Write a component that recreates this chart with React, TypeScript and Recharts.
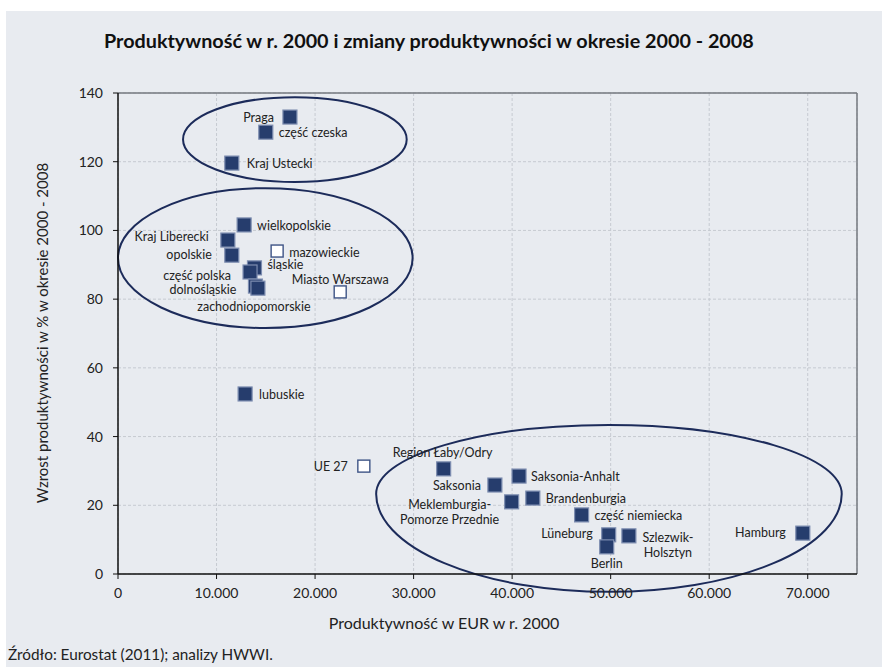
import {
  ScatterChart,
  Scatter,
  XAxis,
  YAxis,
  CartesianGrid,
  ReferenceLine,
  ReferenceArea,
} from "recharts";

// regiony (wypełnione kwadraty)
const regionNames = [
  "Praga",
  "część czeska",
  "Kraj Ustecki",
  "wielkopolskie",
  "Kraj Liberecki",
  "opolskie",
  "śląskie",
  "część polska",
  "dolnośląskie",
  "zachodniopomorskie",
  "lubuskie",
  "Region Łaby/Odry",
  "Saksonia",
  "Saksonia-Anhalt",
  "Meklemburgia-Pomorze Przednie",
  "Brandenburgia",
  "część niemiecka",
  "Lüneburg",
  "Berlin",
  "Szlezwik-Holsztyn",
  "Hamburg",
];
const regionProd2000 = [
  17450, 15000, 11550, 12800, 11150, 11550, 13850, 13400, 13950, 14200,
  12900, 33050, 38250, 40700, 39950, 42100, 47050, 49800, 49600, 51850,
  69500,
];
const regionGrowth = [
  133.0, 128.6, 119.6, 101.6, 97.2, 92.8, 89.1, 87.9, 83.8, 83.2, 52.4,
  30.6, 25.9, 28.5, 21.0, 22.1, 17.2, 11.4, 7.9, 11.1, 11.9,
];

// punkty odniesienia (puste kwadraty)
const refNames = ["mazowieckie", "Miasto Warszawa", "UE 27"];
const refProd2000 = [16150, 22550, 24950];
const refGrowth = [94.0, 82.1, 31.4];

const xTicks = [0, 10000, 20000, 30000, 40000, 50000, 60000, 70000];
const yTicks = [0, 20, 40, 60, 80, 100, 120, 140];

// grupy zaznaczone elipsami
const groups = [
  { name: "CZ", x1: 6600, x2: 29300, top: 138.8, mid: 126.5, bottom: 114.1 },
  { name: "PL", x1: 0, x2: 29900, top: 112.3, mid: 92.0, bottom: 71.6 },
  { name: "DE", x1: 26200, x2: 73450, top: 43.4, mid: 23.3, bottom: -5.2 },
];

const regionData = regionNames.map((name, i) => ({
  name,
  x: regionProd2000[i],
  y: regionGrowth[i],
}));
const refData = refNames.map((name, i) => ({
  name,
  x: refProd2000[i],
  y: refGrowth[i],
}));

// rozmieszczenie etykiet: dx, dy względem środka, wyrównanie
const labelPlace: Record<string, { dx: number; dy: number; anchor: string; lines?: string[] }> = {
  Praga: { dx: -16, dy: 0, anchor: "end" },
  "część czeska": { dx: 13, dy: 0, anchor: "start" },
  "Kraj Ustecki": { dx: 15, dy: 0, anchor: "start" },
  wielkopolskie: { dx: 13, dy: 0, anchor: "start" },
  "Kraj Liberecki": { dx: -19, dy: -4, anchor: "end" },
  opolskie: { dx: -20, dy: -1, anchor: "end" },
  mazowieckie: { dx: 12, dy: 1, anchor: "start" },
  "śląskie": { dx: 13, dy: -4, anchor: "start" },
  "część polska": { dx: -19, dy: 3, anchor: "end" },
  "dolnośląskie": { dx: -19, dy: 3, anchor: "end" },
  zachodniopomorskie: { dx: -4, dy: 18, anchor: "middle" },
  "Miasto Warszawa": { dx: 0, dy: -13, anchor: "middle" },
  lubuskie: { dx: 14, dy: 0, anchor: "start" },
  "UE 27": { dx: -16, dy: 0, anchor: "end" },
  "Region Łaby/Odry": { dx: -1, dy: -17, anchor: "middle" },
  Saksonia: { dx: -14, dy: 0, anchor: "end" },
  "Saksonia-Anhalt": { dx: 12, dy: 0, anchor: "start" },
  "Meklemburgia-Pomorze Przednie": {
    dx: -62,
    dy: 10,
    anchor: "middle",
    lines: ["Meklemburgia-", "Pomorze Przednie"],
  },
  Brandenburgia: { dx: 13, dy: 0, anchor: "start" },
  "część niemiecka": { dx: 13, dy: 0, anchor: "start" },
  "Lüneburg": { dx: -16, dy: -2, anchor: "end" },
  Berlin: { dx: 0, dy: 16, anchor: "middle" },
  "Szlezwik-Holsztyn": {
    dx: 39,
    dy: 9,
    anchor: "middle",
    lines: ["Szlezwik-", "Holsztyn"],
  },
  Hamburg: { dx: -17, dy: -1, anchor: "end" },
};

const FONT = "Lato, 'Open Sans', sans-serif";

const PointLabel = ({ cx, cy, name }: { cx: number; cy: number; name: string }) => {
  const p = labelPlace[name] ?? { dx: 12, dy: 0, anchor: "start" };
  const lines = p.lines ?? [name];
  const startY = cy + p.dy - ((lines.length - 1) * 15) / 2;
  return (
    <text
      x={cx + p.dx}
      y={startY}
      textAnchor={p.anchor as any}
      dominantBaseline="central"
      fontFamily={FONT}
      fontSize={12.5}
      fill="#222"
    >
      {lines.map((l, i) => (
        <tspan key={i} x={cx + p.dx} y={startY + i * 15}>
          {l}
        </tspan>
      ))}
    </text>
  );
};

const FilledSquare = (props: any) => {
  const { cx, cy } = props;
  const name = props.payload?.name ?? props.name;
  return (
    <g>
      <rect x={cx - 7} y={cy - 7} width={14} height={14} fill="#263d6d" stroke="#7d8db0" strokeWidth={1.2} />
      <PointLabel cx={cx} cy={cy} name={name} />
    </g>
  );
};

const HollowSquare = (props: any) => {
  const { cx, cy } = props;
  const name = props.payload?.name ?? props.name;
  return (
    <g>
      <rect x={cx - 6} y={cy - 6} width={12} height={12} fill="#ffffff" stroke="#3e5486" strokeWidth={1.4} />
      <PointLabel cx={cx} cy={cy} name={name} />
    </g>
  );
};

const makeEllipse = (g: (typeof groups)[number]) => (props: any) => {
  const { x, y, width, height } = props;
  const split = (g.top - g.mid) / (g.top - g.bottom);
  const midY = y + height * split;
  const rx = width / 2;
  const ryTop = midY - y;
  const ryBottom = y + height - midY;
  const d = `M ${x} ${midY} A ${rx} ${ryTop} 0 0 1 ${x + width} ${midY} A ${rx} ${ryBottom} 0 0 1 ${x} ${midY} Z`;
  return <path d={d} fill="none" stroke="#1c2b5a" strokeWidth={2} />;
};

const fmtX = (v: number) => (v === 0 ? "0" : `${v / 1000}.000`);

export default function App() {
  return (
    <div style={{ position: "absolute", left: 0, top: 0, width: 882, height: 667, background: "#ffffff" }}>
      <div style={{ position: "absolute", left: 6, top: 11, width: 876, height: 656, background: "#e8ebf0" }} />
      <div
        style={{
          position: "absolute",
          left: 104,
          top: 28,
          fontFamily: FONT,
          fontWeight: 700,
          fontSize: 19.8,
          color: "#111",
          whiteSpace: "nowrap",
        }}
      >
        Produktywność w r. 2000 i zmiany produktywności w okresie 2000 - 2008
      </div>
      <div style={{ position: "absolute", left: 0, top: 0 }}>
        <ScatterChart width={882} height={667} margin={{ top: 93, right: 25, left: 38, bottom: 63 }}>
          <CartesianGrid stroke="#c6cad1" strokeDasharray="3 2" />
          <XAxis
            type="number"
            dataKey="x"
            domain={[0, 75000]}
            ticks={xTicks}
            tickFormatter={fmtX}
            height={30}
            tickSize={5}
            tickMargin={9}
            axisLine={{ stroke: "#111", strokeWidth: 1.5 }}
            tickLine={{ stroke: "#111" }}
            tick={{ fill: "#222", fontSize: 14, fontFamily: FONT }}
            allowDataOverflow
          />
          <YAxis
            type="number"
            dataKey="y"
            domain={[0, 140]}
            ticks={yTicks}
            width={80}
            tickSize={5}
            tickMargin={10}
            axisLine={{ stroke: "#111", strokeWidth: 1.5 }}
            tickLine={{ stroke: "#111" }}
            tick={{ fill: "#222", fontSize: 14, fontFamily: FONT }}
            allowDataOverflow
          />
          <ReferenceLine y={140} stroke="#75797f" strokeWidth={1.5} />
          <ReferenceLine x={75000} stroke="#75797f" strokeWidth={1.5} />
          {groups.map((g) => (
            <ReferenceArea
              key={g.name}
              x1={g.x1}
              x2={g.x2}
              y1={g.bottom}
              y2={g.top}
              ifOverflow="visible"
              shape={makeEllipse(g)}
            />
          ))}
          <Scatter data={regionData} shape={FilledSquare} isAnimationActive={false} />
          <Scatter data={refData} shape={HollowSquare} isAnimationActive={false} />
        </ScatterChart>
      </div>
      <div
        style={{
          position: "absolute",
          left: 42,
          top: 333,
          transform: "translate(-50%, -50%) rotate(-90deg)",
          fontFamily: FONT,
          fontSize: 15,
          color: "#222",
          whiteSpace: "nowrap",
        }}
      >
        Wzrost produktywności w % w okresie 2000 - 2008
      </div>
      <div
        style={{
          position: "absolute",
          left: 444,
          top: 622,
          transform: "translate(-50%, -50%)",
          fontFamily: FONT,
          fontSize: 16,
          color: "#222",
          whiteSpace: "nowrap",
        }}
      >
        Produktywność w EUR w r. 2000
      </div>
      <div
        style={{
          position: "absolute",
          left: 8,
          top: 645,
          fontFamily: FONT,
          fontSize: 15.3,
          color: "#222",
          whiteSpace: "nowrap",
        }}
      >
        Źródło: Eurostat (2011); analizy HWWI.
      </div>
    </div>
  );
}
